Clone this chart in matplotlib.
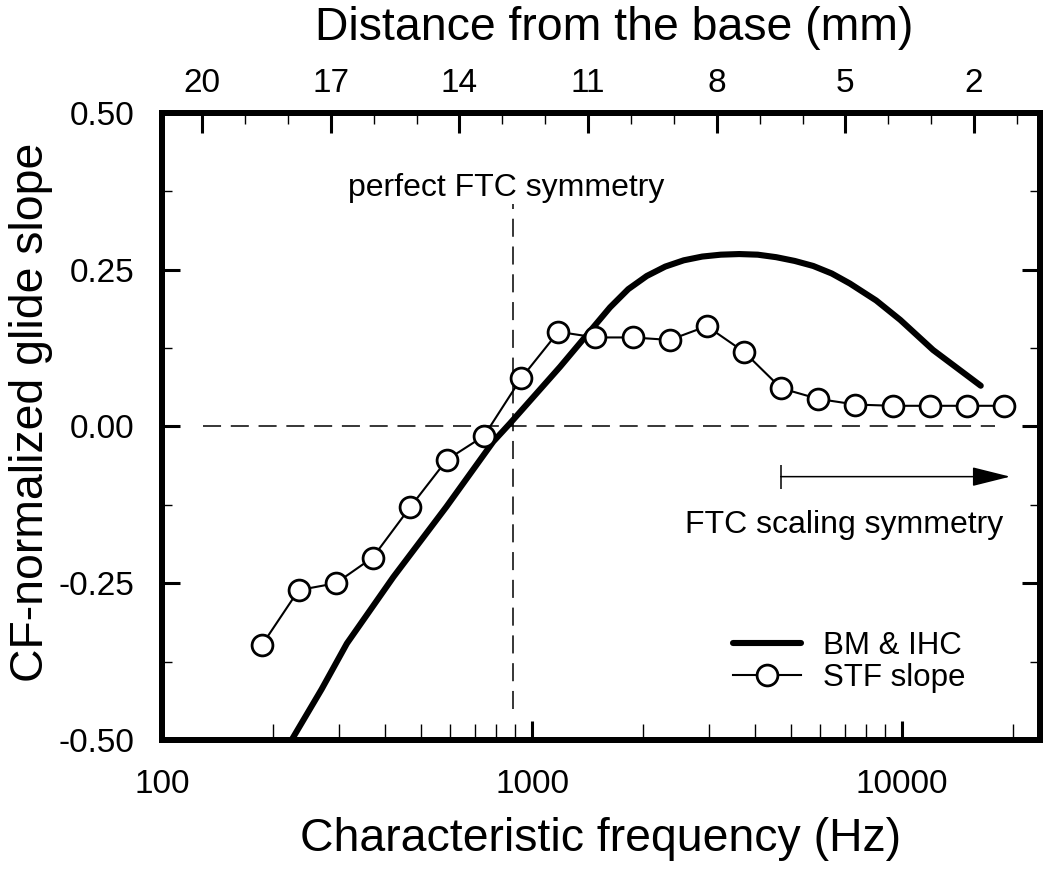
import numpy as np
import matplotlib
matplotlib.use("Agg")
import matplotlib.pyplot as plt
from matplotlib.ticker import FixedLocator, MultipleLocator, LogLocator, FuncFormatter, NullFormatter

# -----------------------------
# data
# -----------------------------
# STF slope (1/3-octave spaced CFs)
stf_freq = [186, 234, 295, 371, 468, 589, 742, 935, 1178, 1484, 1870,
            2356, 2968, 3740, 4712, 5937, 7480, 9424, 11874, 14960, 18850]
stf_slope = [-0.349, -0.261, -0.250, -0.209, -0.129, -0.053, -0.015, 0.077, 0.151, 0.142, 0.142,
             0.138, 0.160, 0.119, 0.061, 0.044, 0.035, 0.033, 0.033, 0.033, 0.033]

# BM & IHC curve
bm_freq = [224, 270, 316, 422, 587, 786, 872, 1190, 1625, 1820, 2042, 2291, 2570, 2884,
           3236, 3631, 4074, 4571, 5129, 5754, 6457, 7228, 8511, 9890, 12130, 16320]
bm_slope = [-0.50, -0.419, -0.346, -0.240, -0.128, -0.024, 0.005, 0.095, 0.190, 0.219, 0.240,
            0.255, 0.265, 0.271, 0.274, 0.275, 0.274, 0.270, 0.264, 0.256, 0.244, 0.228,
            0.201, 0.170, 0.122, 0.065]

# reference lines / annotations
sym_freq = 890            # perfect FTC symmetry
sym_span = (-0.45, 0.355)
zero_span = (129, 17800)
arrow_start, arrow_end, arrow_y = 4700, 19600, -0.08

# axis ranges
f_min, f_max = 100, 23600
mm_ticks = [20, 17, 14, 11, 8, 5, 2]
y_ticks = [-0.50, -0.25, 0.00, 0.25, 0.50]

# mm position along cochlea is linear in log(frequency) on this plot
mm_per_decade = 8.627
f_at_20mm = 128.3


def freq_to_mm(f):
    return 20.0 - mm_per_decade * (np.log10(f) - np.log10(f_at_20mm))


plt.rcParams["font.family"] = ["Liberation Sans", "DejaVu Sans"]
plt.rcParams["lines.scale_dashes"] = False

fig = plt.figure(figsize=(10.5, 8.71), dpi=100)
ax = fig.add_axes([0.1543, 0.1504, 0.8362, 0.7199])

ax.set_xscale("log")
ax.set_xlim(f_min, f_max)
ax.set_ylim(-0.5, 0.5)

dash = (0, (13, 7))
ax.plot(zero_span, [0, 0], color="black", lw=1.1, linestyle=dash, zorder=1)
ax.plot([sym_freq, sym_freq], sym_span, color="black", lw=1.1, linestyle=dash, zorder=1)

ax.plot(bm_freq, bm_slope, color="black", lw=4.4, solid_capstyle="round",
        solid_joinstyle="round", zorder=3, label="BM & IHC")
ax.plot(stf_freq, stf_slope, color="black", lw=1.5, marker="o", markersize=15,
        markerfacecolor="white", markeredgecolor="black", markeredgewidth=2.0, zorder=4,
        label="STF slope")

# FTC scaling symmetry arrow
ax.annotate("", xy=(arrow_end, arrow_y), xytext=(arrow_start, arrow_y),
            arrowprops=dict(arrowstyle="-|>,head_length=1.2,head_width=0.3",
                            mutation_scale=20, color="black", lw=1.1,
                            shrinkA=0, shrinkB=0))
ax.plot([arrow_start], [arrow_y], marker="|", markersize=17, markeredgewidth=1.1,
        color="black")

ax.text(18750, -0.170, "FTC scaling symmetry", ha="right", va="baseline", fontsize=23)
ax.text(850, 0.368, "perfect FTC symmetry", ha="center", va="baseline", fontsize=23)

# legend
ax.legend(loc="lower left", bbox_to_anchor=(0.650, 0.075), frameon=False, fontsize=22.5,
          handlelength=2.2, handletextpad=0.7, labelspacing=0.05, borderpad=0,
          borderaxespad=0)

# spines and ticks
for sp in ax.spines.values():
    sp.set_linewidth(4.3)

ax.xaxis.set_major_locator(LogLocator(base=10, numticks=10))
ax.xaxis.set_minor_locator(LogLocator(base=10, subs=np.arange(2, 10), numticks=10))
ax.xaxis.set_major_formatter(FuncFormatter(lambda v, p: f"{v:.0f}"))
ax.xaxis.set_minor_formatter(NullFormatter())
ax.yaxis.set_major_locator(FixedLocator(y_ticks))
ax.yaxis.set_minor_locator(MultipleLocator(0.125))
ax.yaxis.set_major_formatter(FuncFormatter(lambda v, p: f"{v:.2f}"))

ax.tick_params(axis="x", which="major", direction="in", length=13.7, width=2.2,
               labelsize=24, pad=21, top=False)
ax.tick_params(axis="x", which="minor", direction="in", length=11.5, width=1.0, top=False)
ax.tick_params(axis="y", which="major", direction="in", length=13.0, width=2.2,
               labelsize=24, pad=20, right=True)
ax.tick_params(axis="y", which="minor", direction="in", length=7.2, width=1.0, right=True)

# top axis: distance from the base
ax2 = ax.twiny()
ax2.set_xlim(freq_to_mm(f_min), freq_to_mm(f_max))
ax2.xaxis.set_major_locator(FixedLocator(mm_ticks))
ax2.xaxis.set_minor_locator(MultipleLocator(1))
ax2.tick_params(axis="x", which="major", direction="in", length=14.4, width=2.2,
                labelsize=24, pad=10)
ax2.tick_params(axis="x", which="minor", direction="in", length=8.0, width=1.0)
for sp in ax2.spines.values():
    sp.set_linewidth(4.3)

# axis titles
fig.text(601 / 1050, 1 - 851 / 871, "Characteristic frequency (Hz)",
         ha="center", va="baseline", fontsize=33.4)
fig.text(614 / 1050, 1 - 40 / 871, "Distance from the base (mm)",
         ha="center", va="baseline", fontsize=33.4)
fig.text(43 / 1050, 1 - 412 / 871, "CF-normalized glide slope", rotation=90,
         rotation_mode="anchor", ha="center", va="baseline", fontsize=33.4)

fig.savefig("out.png", dpi=100)
